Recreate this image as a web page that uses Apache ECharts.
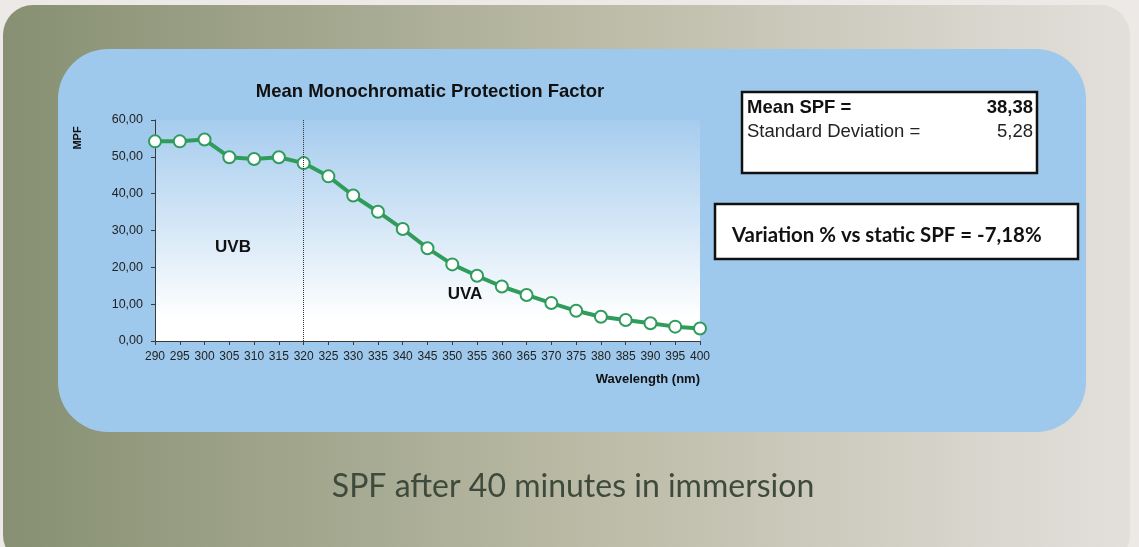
<!DOCTYPE html>
<html>
<head>
<meta charset="utf-8">
<title>Mean Monochromatic Protection Factor</title>
<script src="https://cdn.jsdelivr.net/npm/echarts@6/dist/echarts.min.js"></script>
<style>
  html, body { margin: 0; padding: 0; background: #ece9e6; }
  #chart { width: 1139px; height: 547px; }
</style>
</head>
<body>
<div id="chart"></div>
<script>
// wavelength (nm) and mean monochromatic protection factor
var wavelengths = [290, 295, 300, 305, 310, 315, 320, 325, 330, 335, 340, 345,
  350, 355, 360, 365, 370, 375, 380, 385, 390, 395, 400]
var mpfValues = [54.2, 54.2, 54.7, 49.9, 49.4, 49.9, 48.3, 44.7, 39.5, 35.1, 30.4, 25.2,
  20.8, 17.7, 14.8, 12.5, 10.3, 8.2, 6.6, 5.7, 4.8, 3.9, 3.4]
var uvBoundary = [320]
var regionLabels = ['UVB', 'UVA']
var summaryLines = ['Mean SPF =', 'Standard Deviation =']
var summaryValues = ['38,38', '5,28']
var variationText = ['Variation % vs static SPF = -7,18%']
var captionText = ['SPF after 40 minutes in immersion']

var arial = '"Liberation Sans", Arial, sans-serif'
var green = '#2f9c5c'

var chart = echarts.init(document.getElementById('chart'))

function commaFixed(v) {
  return v.toFixed(2).replace('.', ',')
}

var option = {
  animation: false,
  title: {
    text: 'Mean Monochromatic Protection Factor',
    left: 425,
    top: 77,
    textAlign: 'center',
    textStyle: { fontFamily: arial, fontSize: 18.5, fontWeight: 'bold', color: '#111' }
  },
  grid: {
    left: 155,
    right: 439,
    top: 120,
    bottom: 206,
    show: true,
    borderWidth: 0,
    backgroundColor: new echarts.graphic.LinearGradient(0, 0, 0, 1, [
      { offset: 0, color: '#a6ccee' },
      { offset: 0.55, color: '#dcebf8' },
      { offset: 0.9, color: '#ffffff' },
      { offset: 1, color: '#ffffff' }
    ])
  },
  xAxis: {
    type: 'value',
    min: 290,
    max: 400,
    interval: 5,
    splitLine: { show: false },
    axisLine: { show: true, onZero: false, lineStyle: { color: '#3a3a3a', width: 1 } },
    axisTick: { show: true, length: 4, lineStyle: { color: '#3a3a3a' } },
    axisLabel: { fontFamily: arial, fontSize: 12, color: '#222', margin: 10 }
  },
  yAxis: {
    type: 'value',
    min: 0,
    max: 60,
    interval: 10,
    splitLine: { show: false },
    axisLine: { show: true, lineStyle: { color: '#3a3a3a', width: 1 } },
    axisTick: { show: true, length: 4, lineStyle: { color: '#3a3a3a' } },
    axisLabel: { fontFamily: arial, fontSize: 12.5, color: '#222', margin: 12, formatter: commaFixed }
  },
  series: [{
    type: 'line',
    data: wavelengths.map(function (w, i) { return [w, mpfValues[i]] }),
    symbol: 'circle',
    symbolSize: 12,
    lineStyle: { color: green, width: 4 },
    itemStyle: { color: '#ffffff', borderColor: green, borderWidth: 2 },
    markLine: {
      silent: true,
      symbol: 'none',
      label: { show: false },
      lineStyle: { color: '#333', width: 1, type: 'dotted' },
      data: uvBoundary.map(function (x) { return { xAxis: x } })
    },
    z: 3
  }],
  graphic: [
    {
      type: 'rect', z: -20, silent: true,
      shape: { x: 3, y: 5, width: 1127, height: 560, r: 30 },
      style: {
        fill: new echarts.graphic.LinearGradient(0, 0, 1, 0, [
          { offset: 0, color: '#879072' },
          { offset: 0.5, color: '#b9b9a4' },
          { offset: 1, color: '#e3e0dc' }
        ])
      }
    },
    {
      type: 'rect', z: -19, silent: true,
      shape: { x: 58, y: 49, width: 1028, height: 383, r: 50 },
      style: { fill: '#9ec9ec' }
    },
    {
      type: 'text', z: 5, x: 78, y: 138, rotation: Math.PI / 2,
      style: { text: 'MPF', x: 0, y: 0, align: 'center', verticalAlign: 'middle',
        fontFamily: arial, fontSize: 11, fontWeight: 'bold', fill: '#111' }
    },
    {
      type: 'text', z: 5,
      style: { text: 'Wavelength (nm)', x: 700, y: 379, align: 'right', verticalAlign: 'middle',
        fontFamily: arial, fontSize: 13, fontWeight: 'bold', fill: '#111' }
    },
    {
      type: 'text', z: 5,
      style: { text: regionLabels[0], x: 233, y: 247, align: 'center', verticalAlign: 'middle',
        fontFamily: arial, fontSize: 17, fontWeight: 'bold', fill: '#111' }
    },
    {
      type: 'text', z: 5,
      style: { text: regionLabels[1], x: 465, y: 294, align: 'center', verticalAlign: 'middle',
        fontFamily: arial, fontSize: 17, fontWeight: 'bold', fill: '#111' }
    },
    {
      type: 'rect', z: 5,
      shape: { x: 742, y: 92, width: 295, height: 81 },
      style: { fill: '#ffffff', stroke: '#111', lineWidth: 2.5 }
    },
    {
      type: 'text', z: 6,
      style: { text: summaryLines[0], x: 747, y: 108, align: 'left', verticalAlign: 'middle',
        fontFamily: arial, fontSize: 18.5, fontWeight: 'bold', fill: '#111' }
    },
    {
      type: 'text', z: 6,
      style: { text: summaryValues[0], x: 1033, y: 108, align: 'right', verticalAlign: 'middle',
        fontFamily: arial, fontSize: 18.5, fontWeight: 'bold', fill: '#111' }
    },
    {
      type: 'text', z: 6,
      style: { text: summaryLines[1], x: 747, y: 132, align: 'left', verticalAlign: 'middle',
        fontFamily: arial, fontSize: 18.5, fill: '#222' }
    },
    {
      type: 'text', z: 6,
      style: { text: summaryValues[1], x: 1033, y: 132, align: 'right', verticalAlign: 'middle',
        fontFamily: arial, fontSize: 18.5, fill: '#222' }
    },
    {
      type: 'rect', z: 5,
      shape: { x: 715, y: 204, width: 363, height: 55 },
      style: { fill: '#ffffff', stroke: '#111', lineWidth: 2.5 }
    },
    {
      type: 'text', z: 6,
      style: { text: variationText[0], x: 732, y: 235, align: 'left', verticalAlign: 'middle',
        fontFamily: 'Lato, "Open Sans", sans-serif', fontSize: 20.4, fontWeight: 'bold', fill: '#111' }
    },
    {
      type: 'text', z: 5,
      style: { text: captionText[0], x: 573, y: 487, align: 'center', verticalAlign: 'middle',
        fontFamily: 'Lato, "Open Sans", sans-serif', fontSize: 32, fill: '#3e4a3b' }
    }
  ]
}

chart.setOption(option)
</script>
</body>
</html>
